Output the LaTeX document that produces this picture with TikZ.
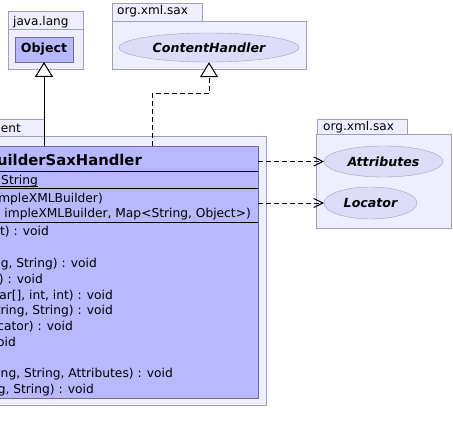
\documentclass[tikz,border=0pt]{standalone}
\usepackage{fontspec}
\setmainfont{DejaVu Sans}
\usetikzlibrary{arrows.meta, shapes.geometric}

\definecolor{pkgFill}{RGB}{238,238,255}
\definecolor{pkgLine}{RGB}{160,160,180}
\definecolor{classFill}{RGB}{184,184,255}
\definecolor{classLine}{RGB}{110,110,140}
\definecolor{ifaceFill}{RGB}{221,221,250}

\begin{document}
\begin{tikzpicture}[
		x=1pt, y=-1pt,
		% Estilos: paquetes, clases, interfaces y textos de miembros
		pkgBox/.style={draw=pkgLine, fill=pkgFill, anchor=north west, inner sep=0pt, outer sep=0pt},
		pkgLabel/.style={anchor=base west, inner sep=0pt, font=\fontsize{12.1}{15}\selectfont},
		classBox/.style={draw=classLine, fill=classFill, anchor=north west, inner sep=0pt, outer sep=0pt},
		ifaceNode/.style={ellipse, draw=pkgLine, fill=ifaceFill, inner sep=0pt, font=\fontsize{12.6}{15}\selectfont\bfseries\itshape},
		memberText/.style={anchor=base east, inner sep=0pt, font=\fontsize{12.25}{15}\selectfont},
		extendsArrow/.style={line width=1pt, -{Triangle[length=15pt, width=18pt, fill=white]}},
		usesArrow/.style={line width=1pt, dash pattern=on 5pt off 3pt, -{Straight Barb[length=9pt, width=9pt]}}
	]

	% Marco fijo de la imagen (el diagrama aparece recortado)
	\path[use as bounding box] (0,0) rectangle (453,444);
	\clip (0,0) rectangle (453,444);

	% --- 1. Paquetes ---
	\node[pkgBox, minimum width=75pt, minimum height=18pt] (langTab) at (8,11) {};
	\node[pkgBox, minimum width=75pt, minimum height=40pt] (langBody) at (8,29) {};
	\node[pkgBox, minimum width=90pt, minimum height=18pt] (saxTab) at (112,3) {};
	\node[pkgBox, minimum width=194pt, minimum height=48pt] (saxBody) at (112,21) {};
	\node[pkgBox, minimum width=104pt, minimum height=17pt] (clientTab) at (-60,119) {};
	\node[pkgBox, minimum width=396pt, minimum height=269pt] (clientBody) at (-130,136) {};
	\node[pkgBox, minimum width=90pt, minimum height=15pt] (saxTabB) at (317,119) {};
	\node[pkgBox, minimum width=135pt, minimum height=94pt] (saxBodyB) at (316,134) {};

	\node[pkgLabel] (langName) at (13,26) {java.lang};
	\node[pkgLabel] (saxName) at (117,15) {org.xml.sax};
	\node[pkgLabel, anchor=base east] (clientName) at (21,132) {ent};
	\node[pkgLabel] (saxNameB) at (323,131) {org.xml.sax};

	% --- 2. Clases e interfaces ---
	\node[classBox, minimum width=58pt, minimum height=25pt, font=\fontsize{12.6}{15}\selectfont\bfseries] (object) at (15,37) {Object};
	\node[ifaceNode, minimum width=180pt, minimum height=29pt] (contentHandler) at (209,47.5) {ContentHandler};
	\node[ifaceNode, minimum width=119pt, minimum height=31pt] (attributes) at (383.5,161.5) {Attributes};
	\node[ifaceNode, minimum width=93pt, minimum height=32pt] (locator) at (370.5,203) {Locator};

	\node[classBox, minimum width=378pt, minimum height=252pt] (handler) at (-120,146) {};
	\foreach \dy in {25,42,76}
		\draw[line width=0.8pt] ([yshift=-\dy pt]handler.north west) -- ([yshift=-\dy pt]handler.north east);

	% --- 3. Textos de la clase ---
	\node[memberText, font=\fontsize{14.8}{18}\selectfont\bfseries] (title) at (142,165) {uilderSaxHandler};
	\node[memberText] (attr) at (38,184) {String};
	\draw ([yshift=-2pt]attr.base east) -- ([yshift=-2pt]attr.base east -| handler.west);
	\node[memberText] (ctorA) at (103,202) {impleXMLBuilder)};
	\node[memberText] (ctorB) at (251,217) {impleXMLBuilder, Map<String, Object>)};

	\foreach \xe/\yb/\txt [count=\i] in {
			49/235/{nt) : void},
			97/267/{ng, String) : void},
			43/283/{g) : void},
			113/299/{ar[], int, int) : void},
			113/314/{tring, String) : void},
			73/330/{cator) : void},
			16/346/{oid},
			173/377/{ng, String, Attributes) : void},
			94/393/{g, String) : void}}
		\node[memberText] (method\i) at (\xe,\yb) {\txt};

	% --- 4. Conexiones ---
	\coordinate (chBend) at (152,94);
	\draw[extendsArrow] (handler.north -| object.south) -- (object.south);
	\draw[extendsArrow, dash pattern=on 5pt off 3pt] (handler.north -| chBend) -- (chBend) -| (contentHandler.south);
	\draw[usesArrow] (handler.east |- attributes.west) -- (attributes.west);
	\draw[usesArrow] (handler.east |- locator.west) -- (locator.west);

\end{tikzpicture}
\end{document}
